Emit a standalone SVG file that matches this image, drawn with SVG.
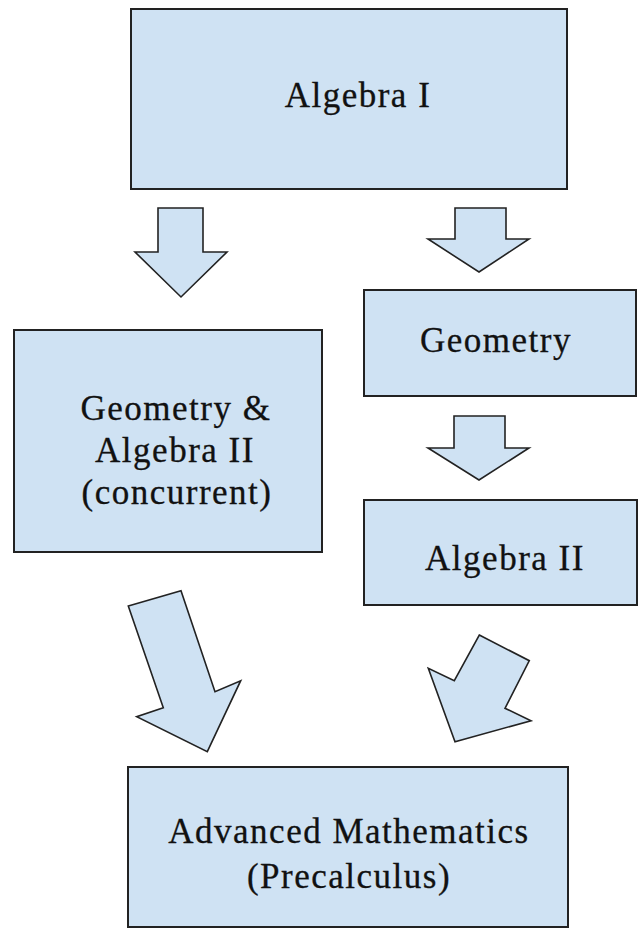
<svg xmlns="http://www.w3.org/2000/svg" width="644" height="929" viewBox="0 0 644 929">
<style>
.box{fill:#cfe2f3;stroke:#222;stroke-width:2}
.arr{fill:#cfe2f3;stroke:#222;stroke-width:1.6;stroke-linejoin:miter}
text{font-family:"Liberation Serif","Times New Roman",serif;font-size:35px;fill:#111;text-anchor:middle;letter-spacing:1.5px;stroke:#111;stroke-width:0.3}
</style>
<rect width="644" height="929" fill="#fff"/>
<g id="algebra1">
<rect class="box" x="131" y="9" width="436" height="180"/>
<text x="358" y="107">Algebra I</text>
</g>
<g id="geoalg2">
<rect class="box" x="14" y="330" width="308" height="222"/>
<text x="176" y="420">Geometry &amp;</text>
<text x="175" y="462">Algebra II</text>
<text x="177" y="504">(concurrent)</text>
</g>
<g id="geometry">
<rect class="box" x="364" y="290" width="272" height="106"/>
<text x="496" y="352">Geometry</text>
</g>
<g id="algebra2">
<rect class="box" x="364" y="500" width="273" height="105"/>
<text x="505" y="570">Algebra II</text>
</g>
<g id="advanced">
<rect class="box" x="128" y="767" width="440" height="160"/>
<text x="349" y="843">Advanced Mathematics</text>
<text x="349" y="888">(Precalculus)</text>
</g>
<g id="connectors">
<polygon class="arr" points="158,208 203,208 203,252 227,252 181,297 135,252 158,252"/>
<polygon class="arr" points="455,208 506,208 506,239 529,239 479,272 428,239 455,239"/>
<polygon class="arr" points="454,416 505,416 505,448 529,448 479,480 428,448 454,448"/>
<polygon class="arr" points="128.3,606 181,590.7 215,691.7 240.7,680.7 207.3,751.7 136.7,716.7 163.3,707.7"/>
<polygon class="arr" points="479.3,635 529.3,660.7 505,708.3 531,720.7 455,741.7 428.3,668.3 454.3,680.7"/>
</g>
</svg>
